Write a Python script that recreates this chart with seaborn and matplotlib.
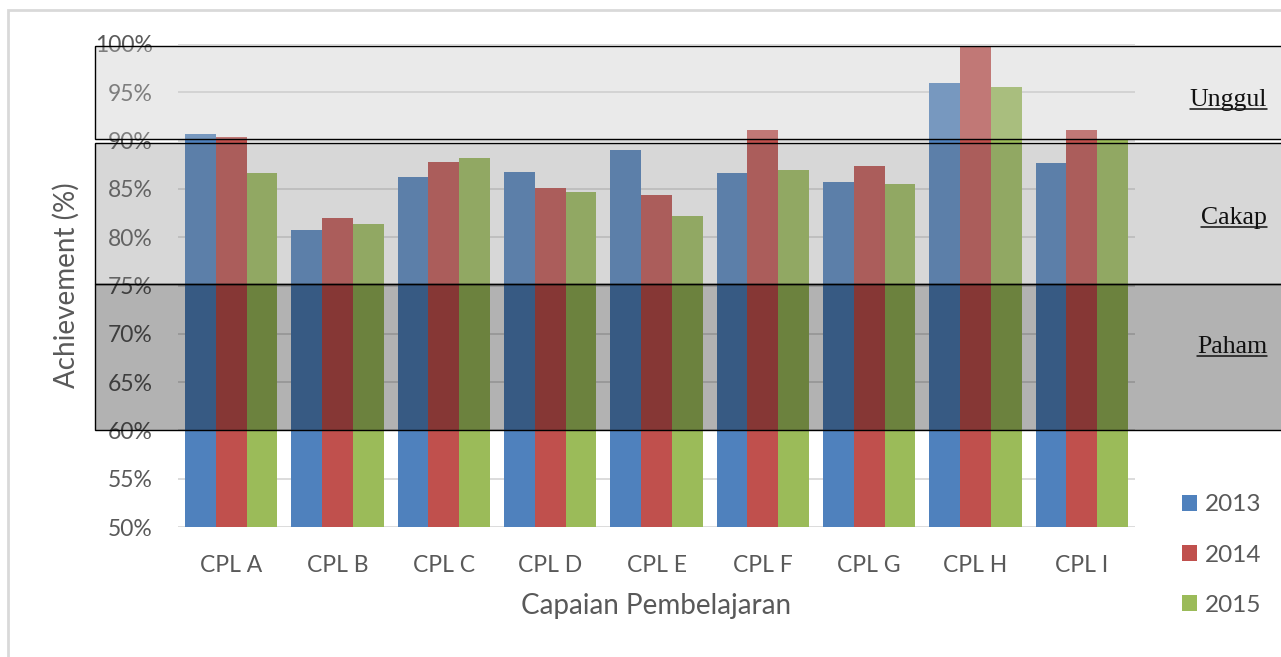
import matplotlib
matplotlib.use("Agg")
import matplotlib.pyplot as plt
import matplotlib.transforms as mtransforms
from matplotlib.patches import Rectangle, Patch
from matplotlib.lines import Line2D
import seaborn as sns
import pandas as pd

# ---- data ----
categories = ["CPL A", "CPL B", "CPL C", "CPL D", "CPL E", "CPL F", "CPL G", "CPL H", "CPL I"]
years = ["2013", "2014", "2015"]
v2013 = [90.65, 80.74, 86.26, 86.75, 89.00, 86.60, 85.68, 95.93, 87.65]
v2014 = [90.34, 81.95, 87.80, 85.09, 84.33, 91.10, 87.34, 99.80, 91.13]
v2015 = [86.60, 81.33, 88.23, 84.65, 82.23, 87.00, 85.54, 95.60, 90.06]
yticks = [50, 55, 60, 65, 70, 75, 80, 85, 90, 95, 100]
band_names = ["Unggul", "Cakap", "Paham"]
band_low = [90.17, 75.12, 60.04]
band_high = [99.79, 89.72, 75.12]
band_label_y = [93.6, 81.4, 68.0]

colors = ["#4F81BD", "#C0504D", "#9BBB59"]
band_colors = [((0.77, 0.77, 0.77), 0.35), ((0.49, 0.49, 0.49), 0.30), ((0.0, 0.0, 0.0), 0.30)]

df = pd.DataFrame({
    "CPL": categories * 3,
    "value": v2013 + v2014 + v2015,
    "year": [y for y in years for _ in categories],
})

sns.set_theme(style="white")
plt.rcParams["font.family"] = ["Lato", "DejaVu Sans"]

W, H = 1281, 657
fig = plt.figure(figsize=(W / 100, H / 100), dpi=100)
ax = fig.add_axes([178 / W, 1 - 527 / H, (1135 - 178) / W, (527 - 44) / H])

sns.barplot(data=df, x="CPL", y="value", hue="year", palette=colors,
            width=0.87, saturation=1, errorbar=None, legend=False, ax=ax,
            edgecolor="none", linewidth=0, zorder=2)

ax.set_ylim(50, 100)
ax.set_xlim(-0.5, len(categories) - 0.5)
ax.set_yticks(yticks)
ax.set_yticklabels([f"{t}%" for t in yticks])
for s in ax.spines.values():
    s.set_visible(False)
ax.yaxis.grid(True, color="#D9D9D9", linewidth=1.3, zorder=0)
ax.xaxis.grid(False)
ax.set_axisbelow(True)
ax.tick_params(axis="both", length=0, labelsize=16.5, labelcolor="#595959")
ax.tick_params(axis="y", pad=18)
ax.tick_params(axis="x", pad=20)

ax.set_xlabel("Capaian Pembelajaran", fontsize=20, color="#595959", va="center")
ax.set_ylabel("Achievement (%)", fontsize=20, color="#595959", va="center")
ax.xaxis.set_label_coords(0.5, (527 - 606) / 483)
ax.yaxis.set_label_coords((66 - 178) / 957, 0.5)

# band overlay boxes
trans = mtransforms.blended_transform_factory(ax.transAxes, ax.transData)
x0 = (95 - 178) / 957
x1 = (1295 - 178) / 957
texts = []
for name, lo, hi, (fc, al), ly in zip(band_names, band_low, band_high, band_colors, band_label_y):
    r = Rectangle((x0, lo), x1 - x0, hi - lo, transform=trans, clip_on=False,
                  facecolor=(*fc, al), edgecolor="black", linewidth=1.0, zorder=5)
    ax.add_patch(r)
    t = ax.text((1267 - 178) / 957, ly, name, transform=trans, ha="right", va="baseline",
                fontsize=18.5, family=["Liberation Serif", "DejaVu Serif"], color="#111111",
                zorder=6, clip_on=False)
    texts.append(t)

# legend
handles = [Patch(facecolor=c, edgecolor="none") for c in colors]
leg = fig.legend(handles, years, loc="center left",
                 bbox_to_anchor=(1182 / W, 1 - 555 / H), bbox_transform=fig.transFigure,
                 frameon=False, fontsize=17.5, handlelength=0.63, handleheight=0.63,
                 handletextpad=0.3, labelspacing=1.2, borderpad=0, borderaxespad=0)
for tx in leg.get_texts():
    tx.set_color("#595959")

# figure border
fig.add_artist(Rectangle((8 / W, -0.1), 1.2, 1.1 - 10 / H, transform=fig.transFigure,
                         facecolor="none", edgecolor="#D9D9D9", linewidth=2, zorder=0))

# underline band labels
fig.canvas.draw()
renderer = fig.canvas.get_renderer()
for t in texts:
    bb = t.get_window_extent(renderer)
    _, by = ax.transData.transform((0, t.get_position()[1]))
    yl = by - 3
    fig.add_artist(Line2D([bb.x0 / W, bb.x1 / W], [yl / H, yl / H],
                          transform=fig.transFigure, color="#111111", linewidth=1.1, zorder=7))

fig.savefig("out.png", dpi=100)
